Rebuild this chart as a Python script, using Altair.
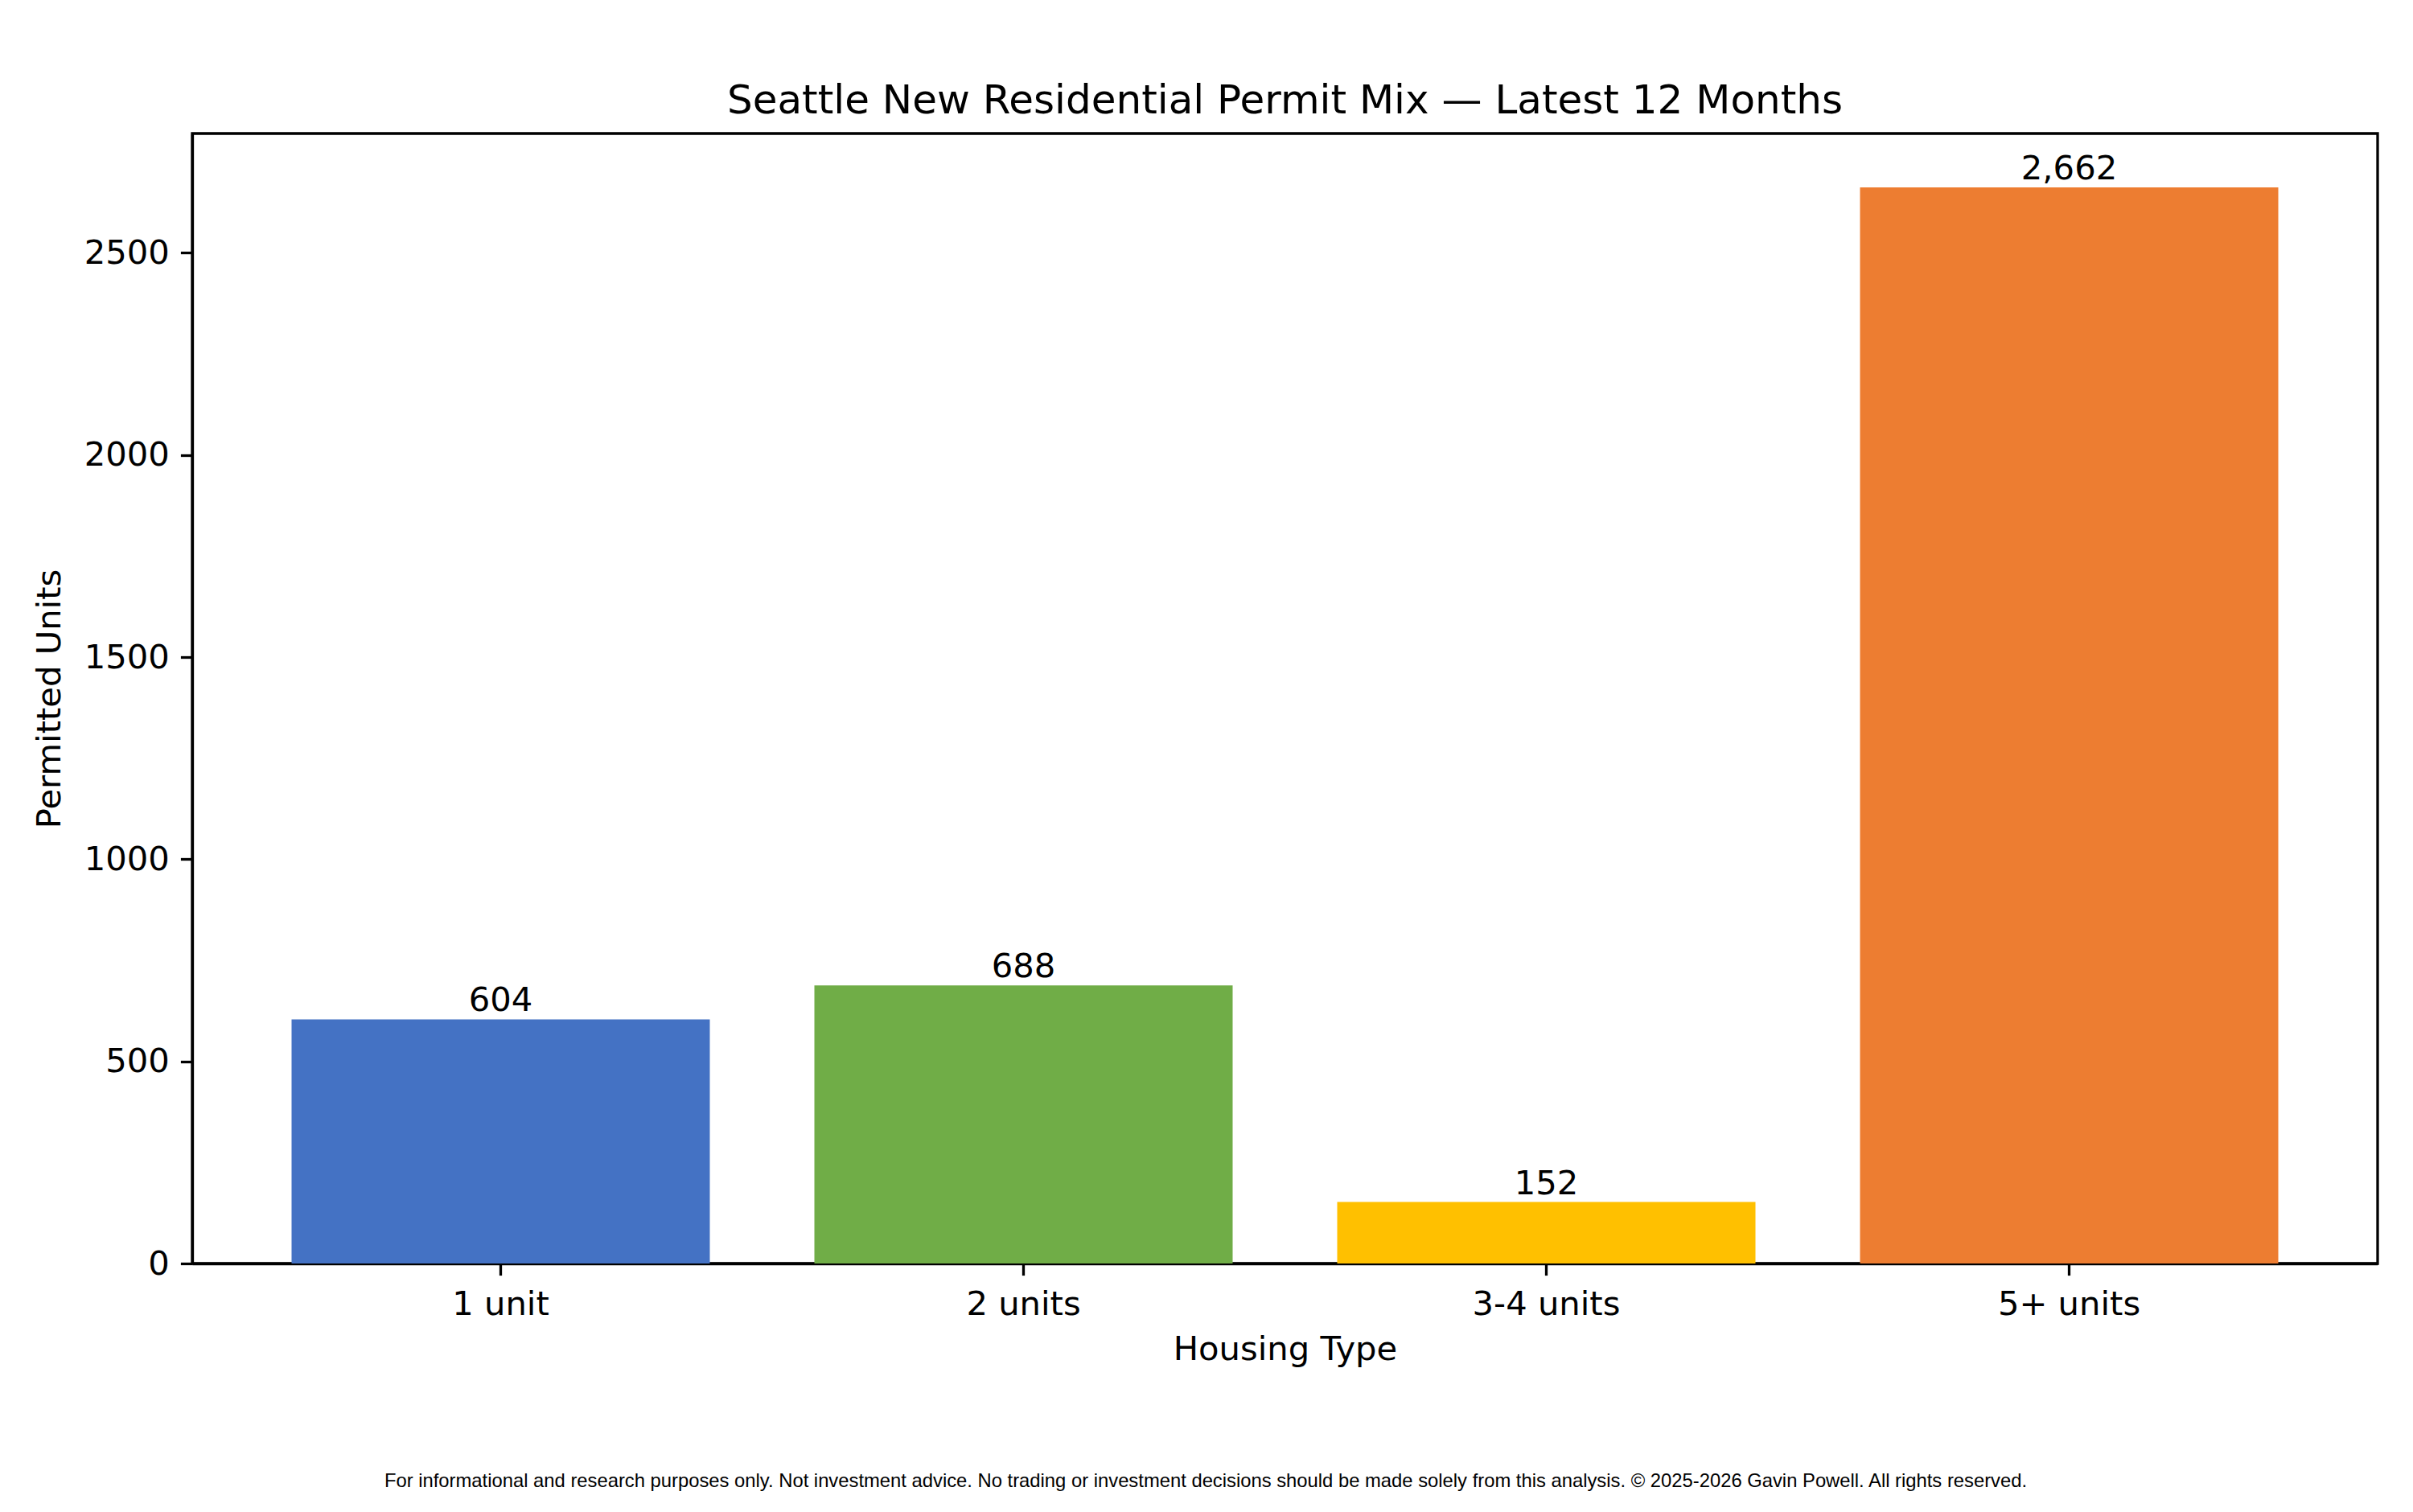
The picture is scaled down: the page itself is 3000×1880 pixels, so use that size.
import altair as alt
import pandas as pd

housing_types = ["1 unit", "2 units", "3-4 units", "5+ units"]
permitted_units = [604, 688, 152, 2662]
bar_colors = ["#4472C4", "#70AD47", "#FFC000", "#ED7D31"]

FOOTER = ("For informational and research purposes only. Not investment advice. "
          "No trading or investment decisions should be made solely from this analysis. "
          "\u00a9 2025-2026 Gavin Powell. All rights reserved.")

df = pd.DataFrame({"type": housing_types, "units": permitted_units})

FONT = "DejaVu Sans"
FS = 41.7
W, H = 2717, 1405

x = alt.X(
    "type:N",
    sort=housing_types,
    title="Housing Type",
    scale=alt.Scale(paddingInner=0.2, paddingOuter=0.19),
    axis=alt.Axis(labelAngle=0, labelPadding=16, titlePadding=14, labelLimit=0),
)
y = alt.Y(
    "units:Q",
    title="Permitted Units",
    scale=alt.Scale(domain=[0, 2795.1], nice=False),
    axis=alt.Axis(values=[0, 500, 1000, 1500, 2000, 2500], format="d",
                  titlePadding=21, labelPadding=14),
)

bars = alt.Chart(df).mark_bar().encode(
    x=x,
    y=y,
    color=alt.Color("type:N", scale=alt.Scale(domain=housing_types, range=bar_colors), legend=None),
)

labels = alt.Chart(df).mark_text(
    baseline="bottom", dy=-1, font=FONT, fontSize=FS, color="black"
).encode(
    x=alt.X("type:N", sort=housing_types),
    y="units:Q",
    text=alt.Text("units:Q", format=","),
)

# disclaimer line under the chart
footer = alt.Chart(pd.DataFrame({"t": [FOOTER]})).mark_text(
    font="Liberation Sans", fontSize=23.8, color="black", align="center", baseline="middle"
).encode(
    x=alt.value(1260),
    y=alt.value(H + 271),
    text="t:N",
)

chart = (
    alt.layer(bars, labels, footer)
    .properties(
        width=W,
        height=H,
        autosize=alt.AutoSizeParams(type="none"),
        padding={"left": 231, "top": 158, "right": 36, "bottom": 301},
        title=alt.Title(
            "Seattle New Residential Permit Mix \u2014 Latest 12 Months",
            font=FONT, fontSize=50, fontWeight="normal", anchor="middle", offset=15, color="black",
        ),
    )
    .configure_view(stroke="black", strokeWidth=3.3)
    .configure_axis(
        grid=False,
        domainColor="black",
        domainWidth=3.3,
        tickColor="black",
        tickWidth=3.3,
        tickSize=14.6,
        labelFont=FONT,
        labelFontSize=FS,
        labelColor="black",
        titleFont=FONT,
        titleFontSize=FS,
        titleFontWeight="normal",
        titleColor="black",
    )
)

chart.save("out.html", embed_options={"renderer": "svg", "actions": False})
